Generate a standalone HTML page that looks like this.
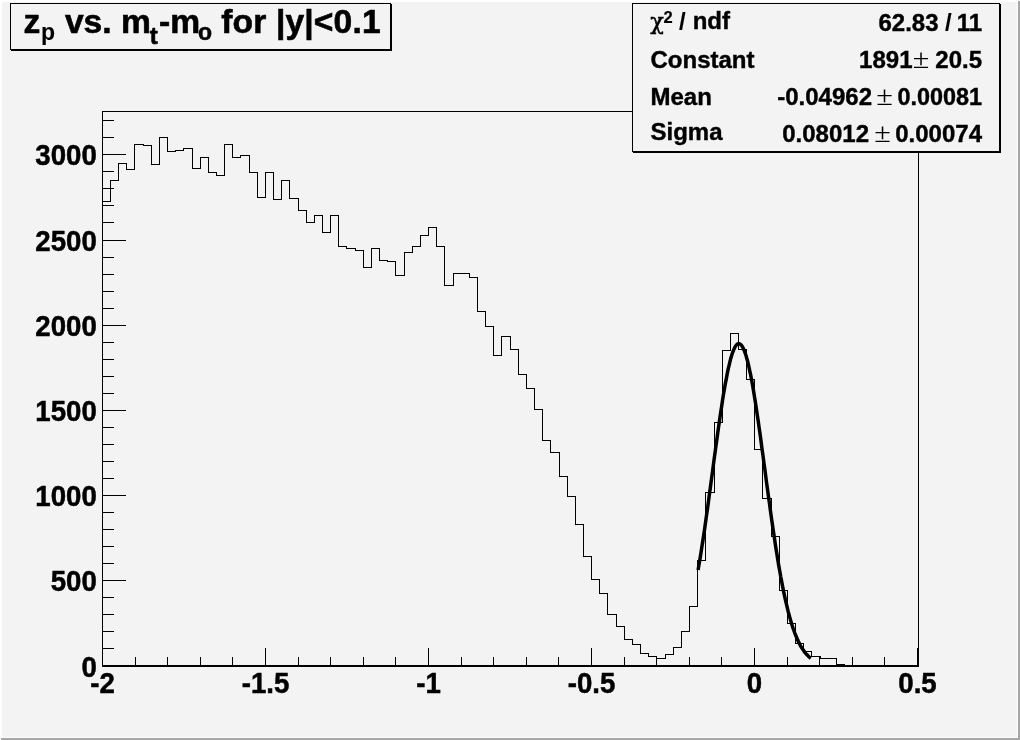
<!DOCTYPE html>
<html><head><meta charset="utf-8"><title>zp vs. mt-mo</title>
<style>
html,body{margin:0;padding:0;background:#f3f3f3;}
body{width:1020px;height:740px;overflow:hidden;position:relative;}
svg{position:absolute;left:0;top:0;display:block;}
text{font-family:"Liberation Sans",Arial,Helvetica,sans-serif;font-weight:bold;fill:#000;}
.ax text{font-size:28.8px;stroke:#000;stroke-width:0.5px;}
.st text{font-size:24px;stroke:#000;stroke-width:0.4px;}
.st .sym{stroke:none;}
.st .chi{font-family:"DejaVu Serif","Liberation Serif",serif;font-weight:normal;stroke-width:0.5px;}
.sym{font-family:"Liberation Serif","DejaVu Serif",serif;font-weight:normal;}
</style></head><body>
<svg width="1020" height="740" viewBox="0 0 1020 740">
<rect x="0" y="0" width="1020" height="740" fill="#f3f3f3"/>
<!-- canvas bevel -->
<rect x="0" y="0" width="1020" height="2" fill="#ffffff"/>
<rect x="0" y="0" width="2" height="740" fill="#ffffff"/>
<rect x="1018" y="1" width="2" height="739" fill="#a6a6a6"/>
<rect x="1" y="738" width="1019" height="2" fill="#a6a6a6"/>
<rect x="1017" y="2" width="1" height="736" fill="#fcfcfc"/>
<rect x="2" y="737" width="1016" height="1" fill="#fcfcfc"/>

<!-- frame -->
<g shape-rendering="crispEdges" fill="none" stroke="#000" stroke-width="1">
<rect x="102.5" y="111.5" width="816" height="555"/>
<path d="M102 665.5H918"/>
<path d="M102.5 665.5v-17.5M135.5 665.5v-8.5M167.5 665.5v-8.5M200.5 665.5v-8.5M232.5 665.5v-8.5M265.5 665.5v-17.5M298.5 665.5v-8.5M330.5 665.5v-8.5M363.5 665.5v-8.5M395.5 665.5v-8.5M428.5 665.5v-17.5M461.5 665.5v-8.5M493.5 665.5v-8.5M526.5 665.5v-8.5M558.5 665.5v-8.5M591.5 665.5v-17.5M624.5 665.5v-8.5M656.5 665.5v-8.5M689.5 665.5v-8.5M721.5 665.5v-8.5M754.5 665.5v-17.5M787.5 665.5v-8.5M819.5 665.5v-8.5M852.5 665.5v-8.5M884.5 665.5v-8.5M917.5 665.5v-17.5M102.5 665.5h23.5M102.5 648.5h11.5M102.5 631.5h11.5M102.5 614.5h11.5M102.5 597.5h11.5M102.5 580.5h23.5M102.5 563.5h11.5M102.5 546.5h11.5M102.5 529.5h11.5M102.5 512.5h11.5M102.5 495.5h23.5M102.5 478.5h11.5M102.5 461.5h11.5M102.5 444.5h11.5M102.5 427.5h11.5M102.5 410.5h23.5M102.5 393.5h11.5M102.5 376.5h11.5M102.5 359.5h11.5M102.5 342.5h11.5M102.5 325.5h23.5M102.5 308.5h11.5M102.5 291.5h11.5M102.5 274.5h11.5M102.5 257.5h11.5M102.5 240.5h23.5M102.5 222.5h11.5M102.5 205.5h11.5M102.5 188.5h11.5M102.5 171.5h11.5M102.5 154.5h23.5M102.5 137.5h11.5M102.5 120.5h11.5"/>
<path d="M102.5 665.5V201.5H110.5V180.5H118.5V163.5H126.5V169.5H134.5V144.5H143.5V145.5H151.5V164.5H159.5V137.5H167.5V151.5H175.5V150.5H183.5V148.5H192.5V168.5H200.5V157.5H208.5V172.5H216.5V175.5H224.5V144.5H232.5V157.5H240.5V155.5H249.5V172.5H257.5V197.5H265.5V172.5H273.5V199.5H281.5V180.5H289.5V198.5H298.5V210.5H306.5V222.5H314.5V215.5H322.5V232.5H330.5V215.5H338.5V246.5H346.5V248.5H355.5V250.5H363.5V267.5H371.5V248.5H379.5V260.5H387.5V261.5H395.5V275.5H404.5V252.5H412.5V246.5H420.5V235.5H428.5V227.5H436.5V246.5H444.5V285.5H453.5V273.5H461.5V273.5H469.5V277.5H477.5V311.5H485.5V326.5H493.5V355.5H501.5V336.5H510.5V349.5H518.5V374.5H526.5V388.5H534.5V409.5H542.5V440.5H550.5V452.5H559.5V476.5H567.5V496.5H575.5V524.5H583.5V556.5H591.5V579.5H599.5V593.5H607.5V614.5H616.5V626.5H624.5V639.5H632.5V644.5H640.5V653.5H648.5V656.5H656.5V658.5H665.5V654.5H673.5V647.5H681.5V631.5H689.5V606.5H697.5V560.5H705.5V492.5H714.5V422.5H722.5V350.5H730.5V333.5H738.5V349.5H746.5V379.5H754.5V449.5H762.5V498.5H771.5V536.5H779.5V590.5H787.5V623.5H795.5V643.5H803.5V651.5H811.5V656.5H820.5V658.5H828.5V658.5H836.5V664.5H844.5V665.5H852.5V665.5H860.5V665.5H868.5V665.5H877.5V665.5H885.5V665.5H893.5V665.5H901.5V665.5H909.5V665.5H917.5V665.5"/>
</g>
<polyline points="698.1,570.0 699.0,564.5 700.0,558.9 700.9,553.2 701.8,547.2 702.8,541.1 703.7,534.9 704.7,528.5 705.6,522.0 706.5,515.4 707.5,508.7 708.4,501.9 709.3,495.0 710.3,488.1 711.2,481.1 712.2,474.1 713.1,467.1 714.0,460.1 715.0,453.1 715.9,446.2 716.9,439.3 717.8,432.5 718.7,425.9 719.7,419.3 720.6,412.9 721.6,406.7 722.5,400.6 723.4,394.8 724.4,389.2 725.3,383.8 726.3,378.8 727.2,373.9 728.1,369.4 729.1,365.3 730.0,361.4 730.9,357.9 731.9,354.8 732.8,352.0 733.8,349.6 734.7,347.6 735.6,346.0 736.6,344.8 737.5,344.0 738.5,343.7 739.4,343.7 740.3,344.2 741.3,345.1 742.2,346.4 743.2,348.1 744.1,350.2 745.0,352.6 746.0,355.5 746.9,358.8 747.9,362.3 748.8,366.3 749.7,370.6 750.7,375.1 751.6,380.0 752.6,385.2 753.5,390.6 754.4,396.3 755.4,402.2 756.3,408.2 757.2,414.5 758.2,421.0 759.1,427.5 760.1,434.2 761.0,441.0 761.9,447.9 762.9,454.9 763.8,461.9 764.8,468.9 765.7,475.9 766.6,482.9 767.6,489.9 768.5,496.8 769.5,503.6 770.4,510.4 771.3,517.1 772.3,523.7 773.2,530.1 774.2,536.5 775.1,542.7 776.0,548.7 777.0,554.6 777.9,560.4 778.8,565.9 779.8,571.3 780.7,576.5 781.7,581.6 782.6,586.4 783.5,591.1 784.5,595.6 785.4,599.9 786.4,604.0 787.3,607.9 788.2,611.7 789.2,615.2 790.1,618.6 791.1,621.9 792.0,624.9 792.9,627.8 793.9,630.5 794.8,633.1 795.8,635.5 796.7,637.8 797.6,639.9 798.6,641.9 799.5,643.8 800.4,645.6 801.4,647.2 802.3,648.7 803.3,650.1 804.2,651.4 805.1,652.6 806.1,653.8 807.0,654.8 808.0,655.8 808.9,656.7 809.8,657.5 810.8,658.2" fill="none" stroke="#000" stroke-width="3.5" stroke-linejoin="round" stroke-linecap="butt"/>

<g class="ax">
<text transform="translate(102.5,693) scale(0.96,1)" text-anchor="middle">-2</text>
<text transform="translate(265.5,693) scale(0.96,1)" text-anchor="middle">-1.5</text>
<text transform="translate(428.5,693) scale(0.96,1)" text-anchor="middle">-1</text>
<text transform="translate(591.5,693) scale(0.96,1)" text-anchor="middle">-0.5</text>
<text transform="translate(754.5,693) scale(0.96,1)" text-anchor="middle">0</text>
<text transform="translate(917.5,693) scale(0.96,1)" text-anchor="middle">0.5</text>
<text transform="translate(96.8,677) scale(0.96,1)" text-anchor="end">0</text>
<text transform="translate(96.8,591) scale(0.96,1)" text-anchor="end">500</text>
<text transform="translate(96.8,506) scale(0.96,1)" text-anchor="end">1000</text>
<text transform="translate(96.8,421) scale(0.96,1)" text-anchor="end">1500</text>
<text transform="translate(96.8,336) scale(0.96,1)" text-anchor="end">2000</text>
<text transform="translate(96.8,251) scale(0.96,1)" text-anchor="end">2500</text>
<text transform="translate(96.8,165) scale(0.96,1)" text-anchor="end">3000</text>
</g>

<!-- title box -->
<g shape-rendering="crispEdges">
<rect x="10.5" y="3.5" width="380" height="46" fill="#f3f3f3" stroke="#000" stroke-width="1"/>
<rect x="11" y="50" width="381" height="1" fill="#000"/>
<rect x="391" y="4" width="1" height="47" fill="#000"/>
</g>
<text x="23.5" y="33" font-size="33.6px" stroke="#000" stroke-width="0.6">z<tspan font-size="23px" dy="6.5" dx="0.6" stroke-width="0.1">p</tspan><tspan dy="-6.5" dx="0.6"> vs. m</tspan><tspan font-size="24px" dy="10.5" dx="-1" stroke-width="0.6">t</tspan><tspan dy="-10.5" dx="1.2">-m</tspan><tspan font-size="23px" dy="6.5" dx="-2" stroke-width="0.5">o</tspan><tspan dy="-6.5" dx="-0.3" letter-spacing="0.15"> for |y|&lt;0.1</tspan></text>

<!-- stats box -->
<g shape-rendering="crispEdges">
<rect x="632.5" y="3.5" width="367" height="148" fill="#f3f3f3" stroke="#000" stroke-width="1"/>
<rect x="633" y="152" width="368" height="1" fill="#000"/>
<rect x="1000" y="4" width="1" height="149" fill="#000"/>
</g>
<g class="st">
<text x="650.2" y="28.8" class="chi" style="font-size:22.5px">χ</text>
<text x="663.4" y="22.8" style="font-size:16.5px;stroke-width:0.2px">2</text>
<text x="679" y="29.5" style="stroke-width:0.1px">/</text>
<text x="692.7" y="29">ndf</text>
<text x="938.5" y="31" text-anchor="end">62.83</text>
<text x="945" y="31" style="stroke-width:0.1px">/</text>
<text x="982" y="31" text-anchor="end">11</text>
<text x="650.5" y="68">Constant</text>
<text x="912.5" y="68" text-anchor="end">1891</text>
<text class="sym" transform="translate(921,68) scale(1.12,1)" text-anchor="middle" style="font-size:27px">±</text>
<text x="982" y="68" text-anchor="end">20.5</text>
<text x="650.5" y="105">Mean</text>
<text x="872" y="105" text-anchor="end">-0.04962</text>
<text class="sym" transform="translate(884.5,105) scale(1.12,1)" text-anchor="middle" style="font-size:27px">±</text>
<text transform="translate(982,105) scale(0.975,1)" text-anchor="end">0.00081</text>
<text x="650.5" y="140">Sigma</text>
<text x="869" y="142" text-anchor="end">0.08012</text>
<text class="sym" transform="translate(882.5,142) scale(1.12,1)" text-anchor="middle" style="font-size:27px">±</text>
<text x="982" y="142" text-anchor="end">0.00074</text>
</g>
</svg>
</body></html>
